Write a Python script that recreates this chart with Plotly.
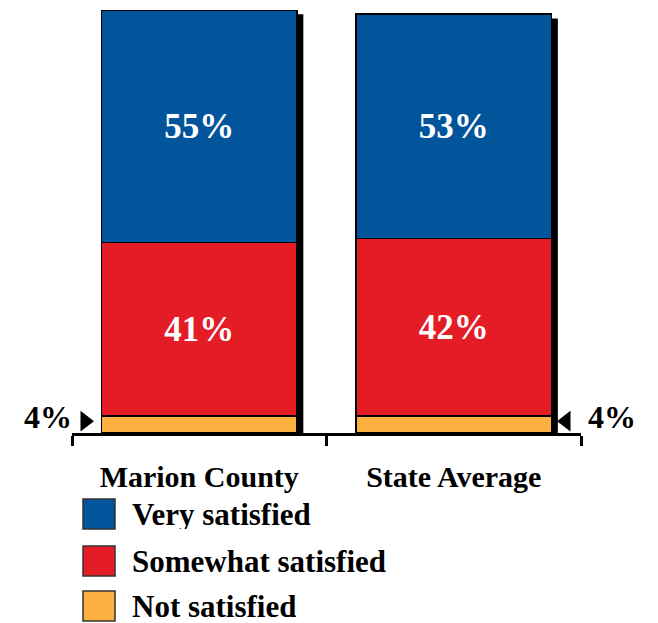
import plotly.graph_objects as go

categories = ["Marion County", "State Average"]
series_names = ["Not satisfied", "Somewhat satisfied", "Very satisfied"]
not_satisfied = [4, 4]
somewhat_satisfied = [41, 42]
very_satisfied = [55, 53]
colors = {"Very satisfied": "#02559A", "Somewhat satisfied": "#E31C25", "Not satisfied": "#FCB040"}

FONT = "Liberation Serif, Times New Roman, serif"
OFF = 8  # page body margin
W, H = 658 - OFF, 623 - OFF
L, R, T, B = 72 - OFF, 77, 10 - OFF, 190
BAR_W = 0.77

values = {"Not satisfied": not_satisfied, "Somewhat satisfied": somewhat_satisfied, "Very satisfied": very_satisfied}

fig = go.Figure()
xs = list(range(len(categories)))
for name in series_names:
    vals = values[name]
    show_text = name != "Not satisfied"
    fig.add_trace(go.Bar(
        x=xs, y=vals, name=name, width=BAR_W,
        marker=dict(color=colors[name], line=dict(color="black", width=1.5)),
        text=[f"<b>{v}%</b>" for v in vals] if show_text else None,
        textposition="inside" if show_text else "none",
        insidetextanchor="middle",
        textfont=dict(family=FONT, size=35, color="white"),
        showlegend=False,
        hoverinfo="skip",
    ))

# shadows behind bars
totals = [a + b + c for a, b, c in zip(not_satisfied, somewhat_satisfied, very_satisfied)]
for i, tot in enumerate(totals):
    fig.add_shape(type="rect", layer="below", xref="x", yref="y",
                  x0=i - BAR_W / 2 + 0.024, x1=i + BAR_W / 2 + 0.024,
                  y0=0, y1=tot - 1, fillcolor="black", line=dict(width=0))

# small pointer triangles for the thin "Not satisfied" segment
fig.add_trace(go.Scatter(
    x=[0 - BAR_W / 2 - 0.064, 1 + BAR_W / 2 + 0.056],
    y=[not_satisfied[0] * 0.7, not_satisfied[1] * 0.7],
    mode="markers", cliponaxis=False, showlegend=False, hoverinfo="skip",
    marker=dict(symbol=["triangle-right", "triangle-left"], size=18, color="black"),
))
fig.add_annotation(x=-0.5, y=not_satisfied[0] * 0.95, xref="x", yref="y", text=f"<b>{not_satisfied[0]}%</b>",
                   showarrow=False, xanchor="right", yanchor="middle", xshift=2,
                   font=dict(family=FONT, size=32, color="black"))
fig.add_annotation(x=1.5, y=not_satisfied[1] * 0.95, xref="x", yref="y", text=f"<b>{not_satisfied[1]}%</b>",
                   showarrow=False, xanchor="left", yanchor="middle", xshift=5,
                   font=dict(family=FONT, size=32, color="black"))

# legend (manual, large swatches)
pw = W - L - R
ph = H - T - B
def px_x(p):
    return (p - OFF - L) / pw
def px_y(p):
    return (H - B - (p - OFF)) / ph
legend_order = ["Very satisfied", "Somewhat satisfied", "Not satisfied"]
legend_y = [514, 561, 606]
for name, cy in zip(legend_order, legend_y):
    fig.add_shape(type="rect", xref="paper", yref="paper",
                  x0=px_x(83), x1=px_x(115), y0=px_y(cy + 15), y1=px_y(cy - 15),
                  fillcolor=colors[name], line=dict(color="#333333", width=1.5))
    fig.add_annotation(xref="paper", yref="paper", x=px_x(131), y=px_y(cy),
                       text=f"<b>{name}</b>", showarrow=False, xanchor="left", yanchor="middle",
                       height=30, valign="middle", borderpad=0,
                       font=dict(family=FONT, size=31, color="black"))

fig.update_layout(
    barmode="stack",
    width=W, height=H,
    margin=dict(l=L, r=R, t=T, b=B, autoexpand=False),
    plot_bgcolor="white", paper_bgcolor="white",
    showlegend=False,
    xaxis=dict(
        range=[-0.5, 1.5], tickmode="array", tickvals=[-0.5, 0.5, 1.5],
        showticklabels=False,
        ticks="outside", ticklen=10, tickwidth=3, tickcolor="black",
        showline=True, linewidth=3, linecolor="black", showgrid=False, zeroline=False,
    ),
    xaxis2=dict(
        overlaying="x", matches="x", anchor="y", side="bottom",
        tickmode="array", tickvals=xs,
        ticktext=[f"<b>{c}</b>" for c in categories],
        ticks="", showline=False, showgrid=False, zeroline=False,
        tickfont=dict(family=FONT, size=30, color="black"),
        ticklabelstandoff=23,
    ),
    yaxis=dict(range=[0, 100], visible=False, showgrid=False, zeroline=False),
)
# invisible helper trace so the label axis is drawn
fig.add_trace(go.Scatter(x=xs, y=[None, None], xaxis="x2", yaxis="y", showlegend=False,
                         hoverinfo="skip", mode="markers"))

fig.write_html("out.html")
